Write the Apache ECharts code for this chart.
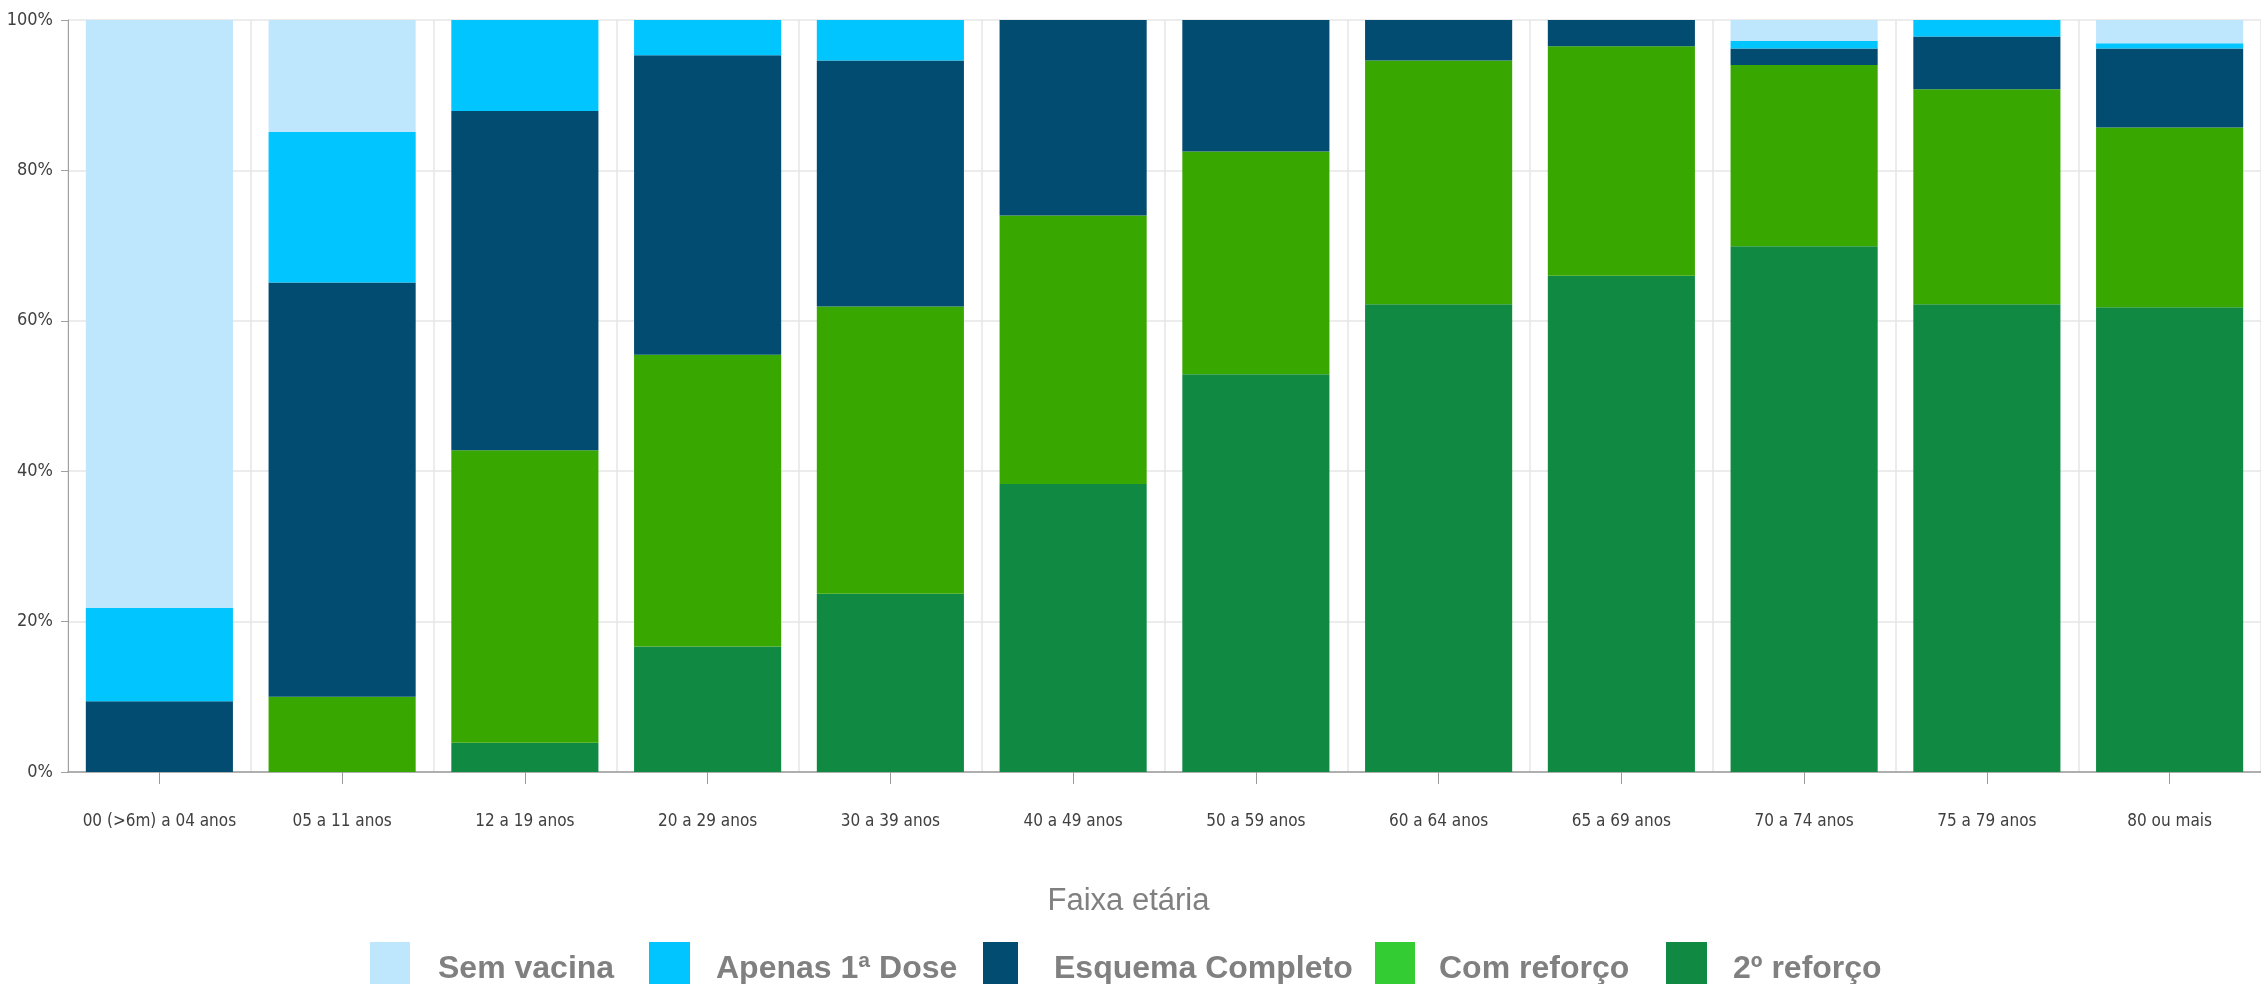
<!DOCTYPE html>
<html>
<head>
<meta charset="utf-8">
<script src="https://cdn.jsdelivr.net/npm/echarts@6/dist/echarts.min.js"></script>
<style>
html,body{margin:0;padding:0;background:#fff;}
#chart{width:2261px;height:984px;}
</style>
</head>
<body>
<div id="chart"></div>
<script>
// ---- Data ----
const categories = ['00 (>6m) a 04 anos','05 a 11 anos','12 a 19 anos','20 a 29 anos','30 a 39 anos','40 a 49 anos','50 a 59 anos','60 a 64 anos','65 a 69 anos','70 a 74 anos','75 a 79 anos','80 ou mais'];
const segundoReforco = [0, 0, 3.9, 16.7, 23.7, 38.3, 52.9, 62.2, 66.0, 69.9, 62.2, 61.8];
const comReforco     = [0, 10.0, 38.9, 38.8, 38.2, 35.7, 29.6, 32.4, 30.5, 24.1, 28.6, 23.9];
const esquemaCompleto= [9.4, 55.1, 45.1, 39.8, 32.7, 26.0, 17.5, 5.4, 3.5, 2.2, 7.0, 10.5];
const apenas1Dose    = [12.4, 20.0, 12.1, 4.7, 5.4, 0, 0, 0, 0, 1.0, 2.2, 0.7];
const semVacina      = [78.2, 14.9, 0, 0, 0, 0, 0, 0, 0, 2.8, 0, 3.1];
const yTicks = [0, 20, 40, 60, 80, 100];
const axisTitle = 'Faixa etária';
const seriesNames = ['Sem vacina','Apenas 1ª Dose','Esquema Completo','Com reforço','2º reforço'];

// ---- Styles ----
const colors = {
  'Sem vacina': '#BEE6FD',
  'Apenas 1ª Dose': '#00C5FF',
  'Esquema Completo': '#024C71',
  'Com reforço': '#38A800',
  '2º reforço': '#108A43'
};
const legendIconColors = {'Com reforço': '#33CC33'};
const legendPos = [
  {left: 370, w: 40, pad: 23},
  {left: 649, w: 41, pad: 21},
  {left: 983, w: 35, pad: 31},
  {left: 1375, w: 40, pad: 19},
  {left: 1666, w: 41, pad: 21}
];
const narrow = '"Liberation Sans Narrow", "DejaVu Sans Condensed", "Arial Narrow", sans-serif';

const valuesByName = {
  '2º reforço': segundoReforco,
  'Com reforço': comReforco,
  'Esquema Completo': esquemaCompleto,
  'Apenas 1ª Dose': apenas1Dose,
  'Sem vacina': semVacina
};
const stackOrder = ['2º reforço','Com reforço','Esquema Completo','Apenas 1ª Dose','Sem vacina'];

const chart = echarts.init(document.getElementById('chart'), null, {renderer: 'canvas'});

const legends = seriesNames.map((n, i) => ({
  show: true,
  orient: 'horizontal',
  left: legendPos[i].left,
  top: 942,
  padding: 0,
  itemWidth: legendPos[i].w,
  itemHeight: 54,
  icon: 'rect',
  selectedMode: false,
  data: [legendIconColors[n] ? {name: n, itemStyle: {color: legendIconColors[n]}} : {name: n}],
  textStyle: {
    fontFamily: '"Liberation Sans", Arial, sans-serif',
    fontWeight: 'bold',
    fontSize: 32,
    color: '#808080',
    padding: [0, 0, 0, legendPos[i].pad]
  }
}));

chart.setOption({
  animation: false,
  backgroundColor: '#ffffff',
  grid: {left: 68, right: -15, top: 20, bottom: 212, containLabel: false},
  legend: legends,
  xAxis: {
    type: 'category',
    data: categories,
    boundaryGap: true,
    name: axisTitle,
    nameLocation: 'middle',
    nameGap: 114,
    nameTextStyle: {
      fontFamily: '"Liberation Sans", Arial, sans-serif',
      fontSize: 31,
      color: '#808080',
      padding: [0, 72, 0, 0]
    },
    axisLine: {show: true, lineStyle: {color: '#9a9a9a', width: 1.5}},
    axisTick: {show: true, alignWithLabel: true, length: 12, lineStyle: {color: '#9a9a9a'}},
    axisLabel: {interval: 0, margin: 41, fontFamily: narrow, fontSize: 17, color: '#404040'},
    splitLine: {show: true, interval: 0, lineStyle: {color: '#e6e6e6', width: 1.5}}
  },
  yAxis: {
    type: 'value',
    min: 0,
    max: 100,
    interval: 20,
    axisLine: {show: true, lineStyle: {color: '#a0a0a0', width: 1}},
    axisTick: {show: true, length: 7, lineStyle: {color: '#a0a0a0'}},
    axisLabel: {
      margin: 15,
      fontFamily: narrow,
      fontSize: 18,
      color: '#404040',
      formatter: v => yTicks.includes(v) ? v + '%' : ''
    },
    splitLine: {show: true, lineStyle: {color: '#e6e6e6', width: 1.5}}
  },
  series: stackOrder.map(n => ({
    name: n,
    type: 'bar',
    stack: 'total',
    barCategoryGap: '19.5%',
    data: valuesByName[n],
    itemStyle: {color: colors[n]},
    emphasis: {disabled: true}
  }))
});
</script>
</body>
</html>
